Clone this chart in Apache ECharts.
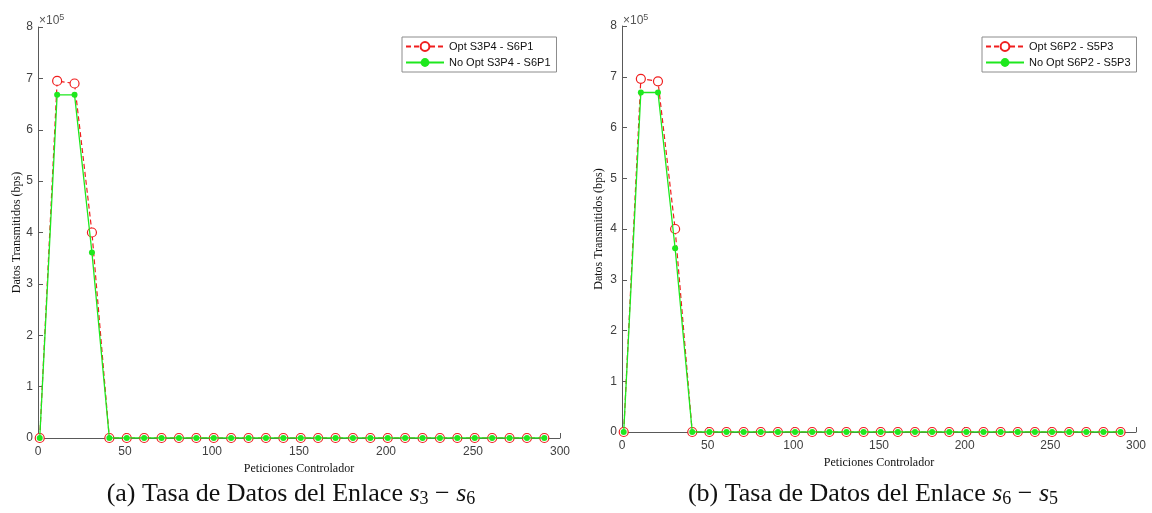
<!DOCTYPE html>
<html>
<head>
<meta charset="utf-8">
<script src="https://cdn.jsdelivr.net/npm/echarts@6/dist/echarts.min.js"></script>
<style>
  html, body { margin: 0; padding: 0; background: #ffffff; }
  #chart { width: 1152px; height: 513px; }
</style>
</head>
<body>
<div id="chart"></div>
<script>
// Controller requests (x) sampled every 10 requests
const requests = [1, 11, 21, 31, 41, 51, 61, 71, 81, 91, 101, 111, 121, 131, 141,
                  151, 161, 171, 181, 191, 201, 211, 221, 231, 241, 251, 261, 271, 281, 291];

// Link s3 - s6 transmitted data (bps)
const optS3P4 = [0, 695000, 690000, 400000, 0, 0, 0, 0, 0, 0, 0, 0, 0, 0, 0,
                 0, 0, 0, 0, 0, 0, 0, 0, 0, 0, 0, 0, 0, 0, 0];
const noOptS3P4 = [0, 668000, 668000, 361000, 0, 0, 0, 0, 0, 0, 0, 0, 0, 0, 0,
                   0, 0, 0, 0, 0, 0, 0, 0, 0, 0, 0, 0, 0, 0, 0];

// Link s6 - s5 transmitted data (bps)
const optS6P2 = [0, 696000, 691000, 400000, 0, 0, 0, 0, 0, 0, 0, 0, 0, 0, 0,
                 0, 0, 0, 0, 0, 0, 0, 0, 0, 0, 0, 0, 0, 0, 0];
const noOptS6P2 = [0, 669000, 669000, 362000, 0, 0, 0, 0, 0, 0, 0, 0, 0, 0, 0,
                   0, 0, 0, 0, 0, 0, 0, 0, 0, 0, 0, 0, 0, 0, 0];

const seriesNames = {
  optA: 'Opt S3P4 - S6P1',
  noOptA: 'No Opt S3P4 - S6P1',
  optB: 'Opt S6P2 - S5P3',
  noOptB: 'No Opt S6P2 - S5P3'
};

const xTicks = { min: 0, max: 300, interval: 50 };
const yTicks = { min: 0, max: 800000, interval: 100000, scale: 100000 };

const captions = [
  { tag: '(a)', a: '3', b: '6' },
  { tag: '(b)', a: '6', b: '5' }
];

const RED = '#f01e1e';
const GREEN = '#1ee81e';
const AXIS = '#595959';
const TICKTXT = '#404040';
const SANS = '"Liberation Sans", Arial, sans-serif';
const SERIF = '"Liberation Serif", "Times New Roman", serif';

const pair = (xs, ys) => xs.map((x, i) => [x, ys[i]]);

function xAxisFor(gridIndex, gap) {
  return {
    type: 'value', gridIndex,
    min: xTicks.min, max: xTicks.max, interval: xTicks.interval,
    name: 'Peticiones Controlador', nameLocation: 'middle', nameGap: gap,
    nameTextStyle: { fontFamily: SERIF, fontSize: 12, color: '#111' },
    axisLine: { show: true, onZero: false, lineStyle: { color: AXIS, width: 1 } },
    axisTick: { show: true, inside: true, length: 5, lineStyle: { color: AXIS } },
    axisLabel: { color: TICKTXT, fontFamily: SANS, fontSize: 12, margin: 8 },
    splitLine: { show: false }
  };
}

function yAxisFor(gridIndex, gap) {
  return {
    type: 'value', gridIndex,
    min: yTicks.min, max: yTicks.max, interval: yTicks.interval,
    name: 'Datos Transmitidos (bps)', nameLocation: 'middle', nameGap: gap,
    nameTextStyle: { fontFamily: SERIF, fontSize: 12, color: '#111' },
    axisLine: { show: true, lineStyle: { color: AXIS, width: 1 } },
    axisTick: { show: true, inside: true, length: 5, lineStyle: { color: AXIS } },
    axisLabel: { color: TICKTXT, fontFamily: SANS, fontSize: 12, margin: 5,
                 formatter: v => String(Math.round(v / yTicks.scale)) },
    splitLine: { show: false }
  };
}

function optSeries(name, idx, ys) {
  return {
    name, type: 'line', xAxisIndex: idx, yAxisIndex: idx,
    data: pair(requests, ys),
    symbol: 'circle', symbolSize: 9, showAllSymbol: true,
    itemStyle: { color: '#ffffff', borderColor: RED, borderWidth: 1.2 },
    lineStyle: { color: RED, width: 1.2, type: [5, 3] },
    emphasis: { disabled: true }, animation: false, z: 2
  };
}

function noOptSeries(name, idx, ys) {
  return {
    name, type: 'line', xAxisIndex: idx, yAxisIndex: idx,
    data: pair(requests, ys),
    symbol: 'circle', symbolSize: 6, showAllSymbol: true,
    itemStyle: { color: GREEN, borderColor: GREEN, borderWidth: 0 },
    lineStyle: { color: GREEN, width: 1.3 },
    emphasis: { disabled: true }, animation: false, z: 3
  };
}

function legendFor(names, left) {
  return {
    data: names, orient: 'vertical', left, top: 37,
    backgroundColor: '#ffffff', borderColor: '#8c8c8c', borderWidth: 1,
    padding: [4, 6, 4, 3], itemWidth: 38, itemHeight: 11, itemGap: 5,
    textStyle: { fontFamily: SANS, fontSize: 11, color: '#111' },
    selectedMode: false
  };
}

function exponentLabel(left) {
  return {
    type: 'text', left, top: 13,
    style: {
      text: '×10{s|5}', fill: '#555', font: '12px ' + SANS,
      rich: { s: { fontSize: 9, fontFamily: SANS, fill: '#555', verticalAlign: 'top', padding: [0, 0, 6, 0] } }
    }
  };
}

function captionText(c, cx) {
  return {
    type: 'text', x: cx, y: 494,
    style: {
      text: c.tag + ' Tasa de Datos del Enlace {i|s}{sub|' + c.a + '} − {i|s}{sub|' + c.b + '}',
      fill: '#111', font: '26px ' + SERIF, align: 'center', verticalAlign: 'middle',
      rich: {
        i: { fontFamily: SERIF, fontSize: 26, fontStyle: 'italic', fill: '#111' },
        sub: { fontFamily: SERIF, fontSize: 18, fill: '#111', padding: [11, 0, 0, 0] }
      }
    }
  };
}

const chart = echarts.init(document.getElementById('chart'), null, { renderer: 'canvas' });
chart.setOption({
  animation: false,
  backgroundColor: '#ffffff',
  grid: [
    { left: 38, right: 1152 - 560, top: 27, bottom: 513 - 438, containLabel: false },
    { left: 622, right: 1152 - 1136, top: 26, bottom: 513 - 432, containLabel: false }
  ],
  xAxis: [xAxisFor(0, 25), xAxisFor(1, 25)],
  yAxis: [yAxisFor(0, 15), yAxisFor(1, 17)],
  legend: [
    legendFor([seriesNames.optA, seriesNames.noOptA], 402),
    legendFor([seriesNames.optB, seriesNames.noOptB], 982)
  ],
  series: [
    optSeries(seriesNames.optA, 0, optS3P4),
    noOptSeries(seriesNames.noOptA, 0, noOptS3P4),
    optSeries(seriesNames.optB, 1, optS6P2),
    noOptSeries(seriesNames.noOptB, 1, noOptS6P2)
  ],
  graphic: [
    exponentLabel(39),
    exponentLabel(623),
    captionText(captions[0], 291),
    captionText(captions[1], 873)
  ]
});
</script>
</body>
</html>
